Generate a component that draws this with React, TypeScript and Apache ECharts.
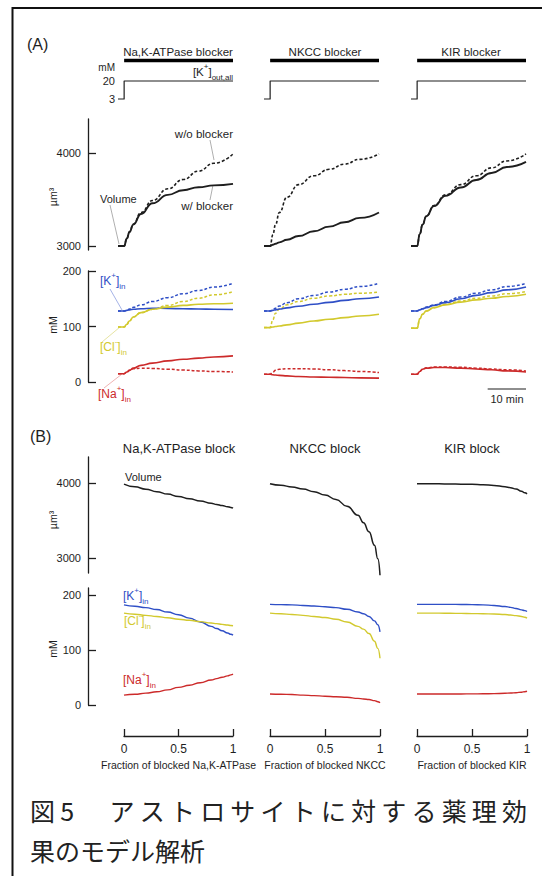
import React, { useEffect, useRef } from "react";
import * as echarts from "echarts";

// ---------------- data ----------------
const panelTitlesA = ["Na,K-ATPase blocker", "NKCC blocker", "KIR blocker"];
const panelTitlesB = ["Na,K-ATPase block", "NKCC block", "KIR block"];
const xNamesB = [
  "Fraction of blocked Na,K-ATPase",
  "Fraction of blocked NKCC",
  "Fraction of blocked KIR",
];

// stimulus: [K+]out,all step (mM) and blocker application (min)
const stimTime = [0, 1.6, 1.6, 30];
const stimK = [3, 3, 20, 20];
const stimTicks = [3, 20];
const blockerSpan = [1.6, 30];
const blockerRow = 39.4;

// panel A: time course (min)
const timeA = [0, 1.6, 2.3, 3, 4, 6, 9, 13, 17, 21, 25, 30];
const volA_without = [
  [3000, 3000, 3080, 3152, 3237, 3360, 3490, 3615, 3715, 3805, 3890, 3990],
  [3000, 3000, 3120, 3230, 3360, 3525, 3660, 3755, 3825, 3880, 3932, 3990],
  [3000, 3000, 3130, 3230, 3320, 3435, 3550, 3660, 3755, 3840, 3915, 3990],
];
const volA_with = [
  [3000, 3000, 3080, 3150, 3230, 3345, 3460, 3550, 3600, 3632, 3652, 3668],
  [3000, 3000, 3013, 3024, 3039, 3067, 3107, 3158, 3208, 3255, 3302, 3360],
  [3000, 3000, 3130, 3230, 3320, 3430, 3540, 3630, 3710, 3785, 3850, 3905],
];
const kA_with = [
  [128, 128, 129, 130, 131, 132, 133, 132.5, 132, 131.5, 131, 130.5],
  [128, 128, 129, 130, 131.5, 133.5, 136.5, 140, 143.5, 147, 150, 153],
  [128, 128, 130, 132, 134, 138, 143, 150, 156, 161, 166, 171],
];
const kA_without = [
  [128, 128, 129.5, 131.5, 134.5, 139, 145, 152, 159, 165, 171, 178],
  [128, 128, 130, 133, 137, 143, 150, 156, 162, 167, 172, 178],
  [128, 128, 130, 132, 135, 139, 145, 153, 160, 166, 172, 178],
];
const clA_with = [
  [99, 99, 104, 110, 117, 125, 131, 135, 138, 140, 141, 142],
  [98, 98, 99, 100, 101, 103, 106, 110, 113, 116, 119, 122],
  [97, 97, 114, 122, 128, 134, 139, 144, 148, 151, 154, 158],
];
const clA_without = [
  [99, 99, 104, 110, 117, 125, 131, 138, 145, 151, 157, 163],
  [98, 98, 112, 124, 131, 139, 145, 151, 155, 158, 160, 162],
  [97, 97, 114, 122, 128, 134, 140, 146, 151, 155, 159, 163],
];
const naA_with = [
  [15, 15, 18, 21, 25, 30, 34, 38, 41, 43, 45, 47],
  [14, 14, 13, 12.5, 12, 11, 10, 9, 8.5, 8, 7.5, 7],
  [14, 14, 19, 23, 25, 26, 26, 25, 23.5, 22, 20, 18],
];
const naA_without = [
  [15, 15, 18, 21, 24, 25, 24.5, 23, 21.5, 20, 19, 18],
  [14, 14, 18, 21, 23, 24, 24, 23.5, 22, 20.5, 19, 17],
  [14, 14, 19, 23, 25.5, 27, 27, 26.5, 25, 23.5, 22, 20],
];
const scaleBarT = [20, 30];
const scaleBarRow = -12.6;
const scaleBarLabel = "10 min";

// panel B: fraction blocked
const fracB = [0, 0.1, 0.2, 0.3, 0.4, 0.5, 0.6, 0.7, 0.8, 0.85, 0.9, 0.95, 0.98, 1];
const volB = [
  [3985, 3950, 3918, 3885, 3852, 3820, 3790, 3760, 3730, 3715, 3700, 3685, 3675, 3665],
  [3990, 3970, 3948, 3920, 3885, 3840, 3780, 3690, 3570, 3470, 3350, 3170, 2990, 2770],
  [3990, 3990, 3989, 3987, 3985, 3982, 3977, 3968, 3950, 3938, 3920, 3890, 3870, 3855],
];
const kB = [
  [182, 179.5, 177, 173.5, 169, 164, 158, 151, 143, 139, 135, 131, 128.5, 127],
  [183, 182.5, 182, 181, 180, 178.5, 177, 174, 169, 166, 161, 153, 146, 133],
  [183, 183, 183, 183, 182.8, 182.5, 182, 181, 179, 177.5, 175.5, 173, 171.5, 170],
];
const clB = [
  [167, 165, 163, 161, 158.5, 156, 154, 151.5, 149, 148, 146.5, 145.5, 144.5, 144],
  [167, 166, 164.5, 163, 161, 159, 156, 151, 143, 138, 130, 116, 103, 85],
  [167, 167, 167, 166.8, 166.5, 166.2, 166, 165.5, 164.5, 163.5, 162.5, 161, 159.5, 158],
];
const naB = [
  [18, 19.5, 21.5, 24, 27.5, 32, 36, 40.5, 45.5, 48, 50.5, 53, 54.8, 56],
  [20, 19.5, 19, 18, 17, 16, 15, 14, 12, 11, 10, 8, 6, 4],
  [20, 20, 20, 20, 20.1, 20.2, 20.4, 20.7, 21.3, 21.8, 22.4, 23.3, 24.2, 25],
];

const volTicks = [3000, 4000];
const ionTicks = [0, 100, 200];

const caption1 = "図5　アストロサイトに対する薬理効";
const caption2 = "果のモデル解析";

// ---------------- styles / layout ----------------
const W = 542;
const H = 876;
const FONT = "'Liberation Sans', Arial, sans-serif";
const CJK = "'Noto Sans CJK JP', sans-serif";
const INK = "#1e1e1e";
const BLUE = "#2f4fc6";
const YEL = "#d2c92e";
const RED = "#cc2a2a";

const A_LEFT = [118, 264, 411];
const A_W = 115;
const B_LEFT = [124, 270, 417];
const B_W = [109, 110, 110];

const pair = (xs: number[], ys: number[]) => xs.map((x, i) => [x, ys[i]]);

function richText(parts: string, color: string, size: number) {
  const small = Math.round(size * 0.68);
  return {
    text: parts,
    rich: {
      b: { fontSize: size, fontFamily: FONT, fill: color, lineHeight: size + 7 },
      sup: { fontSize: small, fontFamily: FONT, fill: color, verticalAlign: "top" },
      sub: { fontSize: small, fontFamily: FONT, fill: color, verticalAlign: "bottom" },
    },
  };
}

function buildOption() {
  const grids: any[] = [];
  const xAxes: any[] = [];
  const yAxes: any[] = [];
  const series: any[] = [];
  const g: any[] = [];

  const axisLine = { show: true, onZero: false, lineStyle: { color: INK, width: 1.3 } };
  const addGrid = (left: number, top: number, width: number, height: number, xA: any, yA: any) => {
    const idx = grids.length;
    grids.push({ left, top, width, height, containLabel: false, show: false });
    xAxes.push({ ...xA, gridIndex: idx });
    yAxes.push({ ...yA, gridIndex: idx });
    return idx;
  };
  const plain = (v: number) => String(v);
  const yVisible = (min: number, max: number, ticks: number[], offset: number) => ({
    type: "value",
    min,
    max,
    offset,
    axisLine,
    axisTick: { show: true, inside: true, length: 8, customValues: ticks, lineStyle: { color: INK, width: 1.3 } },
    axisLabel: { customValues: ticks, formatter: plain, fontSize: 11, color: INK, fontFamily: FONT, margin: 7 },
    splitLine: { show: false },
  });
  const yHidden = (min: number, max: number) => ({ type: "value", min, max, show: false, splitLine: { show: false } });
  const xHidden = (min: number, max: number) => ({ type: "value", min, max, show: false, splitLine: { show: false } });

  const line = (idx: number, data: number[][], color: string, width: number, dashed: boolean, smooth: any = 0.5) => ({
    type: "line",
    xAxisIndex: idx,
    yAxisIndex: idx,
    data,
    symbol: "none",
    showSymbol: false,
    smooth,
    smoothMonotone: "x",
    silent: true,
    clip: false,
    lineStyle: { color, width, type: dashed ? [3, 2] : "solid", cap: "butt", join: "round" },
    z: dashed ? 2 : 3,
  });

  // stimulus grids
  for (let p = 0; p < 3; p++) {
    const yA =
      p === 0
        ? {
            type: "value",
            min: -2.67,
            max: 49.3,
            axisLine: { show: false },
            axisTick: { show: false },
            axisLabel: { customValues: stimTicks, formatter: plain, fontSize: 11, color: INK, fontFamily: FONT, margin: 3 },
            splitLine: { show: false },
          }
        : yHidden(-2.67, 49.3);
    const idx = addGrid(A_LEFT[p], 50, A_W, 55, xHidden(0, 30), yA);
    series.push(line(idx, pair(stimTime, stimK), INK, 1.2, false, false));
    series.push(line(idx, blockerSpan.map((t) => [t, blockerRow]), "#000", 3.6, false, false));
  }
  // volume A
  for (let p = 0; p < 3; p++) {
    const idx = addGrid(
      A_LEFT[p], 119, A_W, 131, xHidden(0, 30),
      p === 0 ? yVisible(2957, 4366, volTicks, 30) : yHidden(2957, 4366)
    );
    series.push(line(idx, pair(timeA, volA_without[p]), INK, 1.6, true));
    series.push(line(idx, pair(timeA, volA_with[p]), INK, 1.9, false));
  }
  // ions A
  for (let p = 0; p < 3; p++) {
    const idx = addGrid(
      A_LEFT[p], 271, A_W, 111, xHidden(0, 30),
      p === 0 ? yVisible(0, 200, ionTicks, 30) : yHidden(0, 200)
    );
    series.push(line(idx, pair(timeA, kA_without[p]), BLUE, 1.5, true));
    series.push(line(idx, pair(timeA, clA_without[p]), YEL, 1.5, true));
    series.push(line(idx, pair(timeA, naA_without[p]), RED, 1.5, true));
    series.push(line(idx, pair(timeA, kA_with[p]), BLUE, 1.6, false));
    series.push(line(idx, pair(timeA, clA_with[p]), YEL, 1.6, false));
    series.push(line(idx, pair(timeA, naA_with[p]), RED, 1.6, false));
    if (p === 2) {
      series.push(line(idx, scaleBarT.map((t) => [t, scaleBarRow]), INK, 1.2, false, false));
    }
  }
  // volume B
  for (let p = 0; p < 3; p++) {
    const idx = addGrid(
      B_LEFT[p], 457, B_W[p], 116, xHidden(0, 1),
      p === 0 ? yVisible(2800, 4347, volTicks, 36) : yHidden(2800, 4347)
    );
    series.push(line(idx, pair(fracB, volB[p]), INK, 1.5, false));
  }
  // ions B
  for (let p = 0; p < 3; p++) {
    const xA = {
      type: "value",
      min: 0,
      max: 1,
      interval: 0.5,
      position: "bottom",
      offset: 31,
      axisLine,
      axisTick: { show: true, inside: true, length: 7, lineStyle: { color: INK, width: 1.3 } },
      axisLabel: { fontSize: 12, color: INK, fontFamily: FONT, margin: 7, formatter: plain },
      splitLine: { show: false },
      name: xNamesB[p],
      nameLocation: "middle",
      nameGap: 23,
      nameTextStyle: { fontSize: 10.5, color: INK, fontFamily: FONT },
    };
    const idx = addGrid(
      B_LEFT[p], 588, B_W[p], 117, xA,
      p === 0 ? yVisible(0, 212.7, ionTicks, 36) : yHidden(0, 212.7)
    );
    series.push(line(idx, pair(fracB, kB[p]), BLUE, 1.4, false));
    series.push(line(idx, pair(fracB, clB[p]), YEL, 1.4, false));
    series.push(line(idx, pair(fracB, naB[p]), RED, 1.4, false));
  }

  // ---------------- graphic annotations ----------------
  const txt = (x: number, y: number, text: string, o: any = {}) => ({
    type: "text",
    x,
    y,
    rotation: o.rot || 0,
    silent: true,
    style: {
      text,
      fill: o.color || INK,
      fontSize: o.size || 11,
      fontFamily: o.font || FONT,
      align: o.align || "left",
      verticalAlign: "middle",
      textAlign: o.align || "left",
      textVerticalAlign: "middle",
    },
  });
  const rtxt = (x: number, y: number, parts: string, color: string, size: number, align = "left") => ({
    type: "text",
    x,
    y,
    silent: true,
    style: {
      ...richText(parts, color, size),
      fill: color,
      align,
      verticalAlign: "middle",
      textAlign: align,
      textVerticalAlign: "middle",
    },
  });
  const seg = (x1: number, y1: number, x2: number, y2: number, stroke: string, lw = 0.8) => ({
    type: "line",
    silent: true,
    shape: { x1, y1, x2, y2 },
    style: { stroke, lineWidth: lw },
  });

  // frame
  g.push(seg(12, 8, W, 8, "#111", 2));
  g.push(seg(12.5, 7, 12.5, H, "#111", 2));

  g.push(txt(27, 44, "(A)", { size: 16 }));
  g.push(txt(30, 436, "(B)", { size: 16 }));

  const titleCentersA = [178, 325, 471];
  panelTitlesA.forEach((t, i) => g.push(txt(titleCentersA[i], 52, t, { size: 11.5, align: "center" })));
  const titleCentersB = [179, 325, 472];
  panelTitlesB.forEach((t, i) => g.push(txt(titleCentersB[i], 448, t, { size: 13, align: "center" })));

  g.push(txt(115, 67, "mM", { size: 10, align: "right" }));
  g.push(rtxt(233, 72, "{b|[K}{sup|+}{b|]}{sub|out,all}", INK, 11.5, "right"));

  // volume A annotations
  g.push(txt(100, 199, "Volume", { size: 11 }));
  g.push(seg(110, 205, 119, 244, "#9a9a9a"));
  g.push(txt(233, 134, "w/o blocker", { size: 11.5, align: "right" }));
  g.push(seg(210, 140, 214, 160, "#9a9a9a"));
  g.push(txt(233, 206, "w/ blocker", { size: 11.5, align: "right" }));
  g.push(seg(210, 200, 213, 185, "#9a9a9a"));

  // ion A annotations
  g.push(rtxt(100, 281, "{b|[K}{sup|+}{b|]}{sub|in}", BLUE, 12));
  g.push(seg(110, 289, 122, 310, "#8ea0e0"));
  g.push(rtxt(100, 347, "{b|[Cl}{sup|-}{b|]}{sub|in}", YEL, 12));
  g.push(seg(102, 342, 120, 327, "#e0dc8a"));
  g.push(rtxt(98, 394, "{b|[Na}{sup|+}{b|]}{sub|in}", RED, 12));
  g.push(seg(104, 388, 122, 374, "#eba0a0"));

  // scale bar label
  g.push(txt(507, 399, scaleBarLabel, { size: 11, align: "center" }));

  // y axis names
  g.push(txt(53, 197, "µm³", { size: 10.5, align: "center", rot: Math.PI / 2 }));
  g.push(txt(53, 325, "mM", { size: 10.5, align: "center", rot: Math.PI / 2 }));
  g.push(txt(53, 520, "µm³", { size: 10.5, align: "center", rot: Math.PI / 2 }));
  g.push(txt(53, 649, "mM", { size: 10.5, align: "center", rot: Math.PI / 2 }));

  // panel B annotations
  g.push(txt(125, 477, "Volume", { size: 11 }));
  g.push(rtxt(123, 596, "{b|[K}{sup|+}{b|]}{sub|in}", BLUE, 12));
  g.push(rtxt(124, 621, "{b|[Cl}{sup|-}{b|]}{sub|in}", YEL, 12));
  g.push(rtxt(123, 680, "{b|[Na}{sup|+}{b|]}{sub|in}", RED, 12));

  // caption (line 1 justified across the width)
  const chars = Array.from(caption1);
  const widths = chars.map((c) => (c === "5" ? 14 : 25));
  const natural = widths.reduce((a, b) => a + b, 0);
  const gap = (497 - natural) / (chars.length - 1);
  let cx = 30;
  chars.forEach((c, i) => {
    if (c !== "　") g.push(txt(cx, 810, c, { size: 25, font: CJK, color: "#222" }));
    cx += widths[i] + gap;
  });
  g.push(txt(30, 850, caption2, { size: 25, font: CJK, color: "#222" }));

  return {
    animation: false,
    backgroundColor: "#fff",
    textStyle: { fontFamily: FONT },
    grid: grids,
    xAxis: xAxes,
    yAxis: yAxes,
    series,
    graphic: { elements: g },
  };
}

export default function App() {
  const ref = useRef<HTMLDivElement>(null);
  useEffect(() => {
    const chart = echarts.init(ref.current as HTMLDivElement, null, { renderer: "svg" });
    chart.setOption(buildOption() as any);
    return () => chart.dispose();
  }, []);
  return (
    <div
      ref={ref}
      style={{ position: "absolute", left: 0, top: 0, width: W, height: H, background: "#fff" }}
    />
  );
}
